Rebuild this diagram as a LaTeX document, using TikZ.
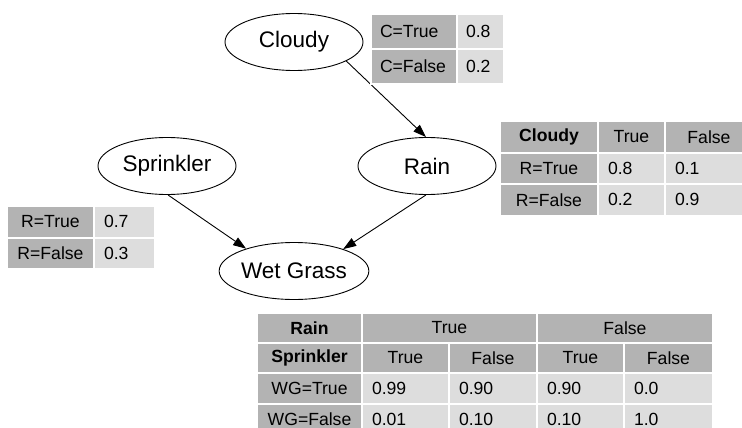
\documentclass[tikz,border=0pt]{standalone}
\usepackage{fontspec}
\setmainfont{Liberation Sans}
\usetikzlibrary{arrows.meta,shapes.geometric}
\definecolor{hdr}{RGB}{179,179,179}
\definecolor{val}{RGB}{221,221,221}
\newcommand\bnfont{\fontsize{22.5}{27}\selectfont}
\newcommand\tabfont{\fontsize{17.6}{21}\selectfont}
\begin{document}
\begin{tikzpicture}[x=1pt,y=-1pt,
  bn/.style={ellipse, draw=black, line width=0.9pt, minimum width=138pt, minimum height=57pt, inner sep=0pt, font=\bnfont},
  arr/.style={draw=black, line width=0.9pt, -{Triangle[length=13pt,width=9pt]}},
  cell/.style={draw=white, line width=2pt, inner sep=0pt, anchor=north west, font=\tabfont, text=black},
  dk/.style={cell, fill=hdr, align=center},
  lt/.style={cell, fill=val, align=left, inner xsep=10pt}]
\clip (0,0) rectangle (742,428);
% network nodes
\node[bn] (cloudy) at (294,42) {Cloudy};
\node[bn] (sprinkler) at (167,166) {Sprinkler};
\node[bn] (rain) at (427,166) {Rain};
\node[bn] (wg) at (294,271) {Wet Grass};
\draw[arr] (cloudy.-20) -- (rain.92);
\draw[arr] (sprinkler.-88) -- (wg.155);
\draw[arr] (rain.-92) -- (wg.24);
% table Cloudy
\node[dk, align=left, inner xsep=9pt, text width=68pt, minimum height=35pt] (c1a) at (370,13) {C=True};
\node[lt, inner xsep=9pt, text width=29pt, minimum height=35pt] (c1b) at (456,13) {0.8};
\node[dk, align=left, inner xsep=9pt, text width=68pt, minimum height=35pt] (c2a) at (370,48) {C=False};
\node[lt, inner xsep=9pt, text width=29pt, minimum height=35pt] (c2b) at (456,48) {0.2};
% table Rain
\node[dk, minimum width=98pt, minimum height=31.5pt] (r0a) at (499,120) {\bfseries Cloudy};
\node[dk, minimum width=67pt, minimum height=31.5pt] (r0b) at (597,120) {True};
\node[dk, minimum width=88pt, minimum height=31.5pt] (r0c) at (664,120) {False};
\node[dk, minimum width=98pt, minimum height=31.5pt] (r1a) at (499,151.5) {R=True};
\node[lt, text width=47pt, minimum height=31.5pt] (r1b) at (597,151.5) {0.8};
\node[lt, text width=68pt, minimum height=31.5pt] (r1c) at (664,151.5) {0.1};
\node[dk, minimum width=98pt, minimum height=31.5pt] (r2a) at (499,183) {R=False};
\node[lt, text width=47pt, minimum height=31.5pt] (r2b) at (597,183) {0.2};
\node[lt, text width=68pt, minimum height=31.5pt] (r2c) at (664,183) {0.9};
% table Sprinkler
\node[dk, minimum width=87pt, minimum height=31.5pt] (s1a) at (6,205) {R=True};
\node[lt, text width=41pt, minimum height=31.5pt] (s1b) at (93,205) {0.7};
\node[dk, minimum width=87pt, minimum height=31.5pt] (s2a) at (6,236.5) {R=False};
\node[lt, text width=41pt, minimum height=31.5pt] (s2b) at (93,236.5) {0.3};
% table Wet Grass
\node[dk, minimum width=105pt, minimum height=30pt] (w0a) at (256,312) {\bfseries Rain};
\node[dk, minimum width=175pt, minimum height=30pt] (w0b) at (361,312) {True};
\node[dk, minimum width=176pt, minimum height=30pt] (w0c) at (536,312) {False};
\node[dk, minimum width=105pt, minimum height=30pt] (w1a) at (256,342) {\bfseries Sprinkler};
\node[dk, minimum width=87pt, minimum height=30pt] (w1b) at (361,342) {True};
\node[dk, minimum width=88pt, minimum height=30pt] (w1c) at (448,342) {False};
\node[dk, minimum width=87pt, minimum height=30pt] (w1d) at (536,342) {True};
\node[dk, minimum width=89pt, minimum height=30pt] (w1e) at (623,342) {False};
\node[dk, minimum width=105pt, minimum height=31pt] (w2a) at (256,372) {WG=True};
\node[lt, text width=67pt, minimum height=31pt] (w2b) at (361,372) {0.99};
\node[lt, text width=68pt, minimum height=31pt] (w2c) at (448,372) {0.90};
\node[lt, text width=67pt, minimum height=31pt] (w2d) at (536,372) {0.90};
\node[lt, text width=69pt, minimum height=31pt] (w2e) at (623,372) {0.0};
\node[dk, minimum width=105pt, minimum height=30pt] (w3a) at (256,403) {WG=False};
\node[lt, text width=67pt, minimum height=30pt] (w3b) at (361,403) {0.01};
\node[lt, text width=68pt, minimum height=30pt] (w3c) at (448,403) {0.10};
\node[lt, text width=67pt, minimum height=30pt] (w3d) at (536,403) {0.10};
\node[lt, text width=69pt, minimum height=30pt] (w3e) at (623,403) {1.0};
\end{tikzpicture}
\end{document}
